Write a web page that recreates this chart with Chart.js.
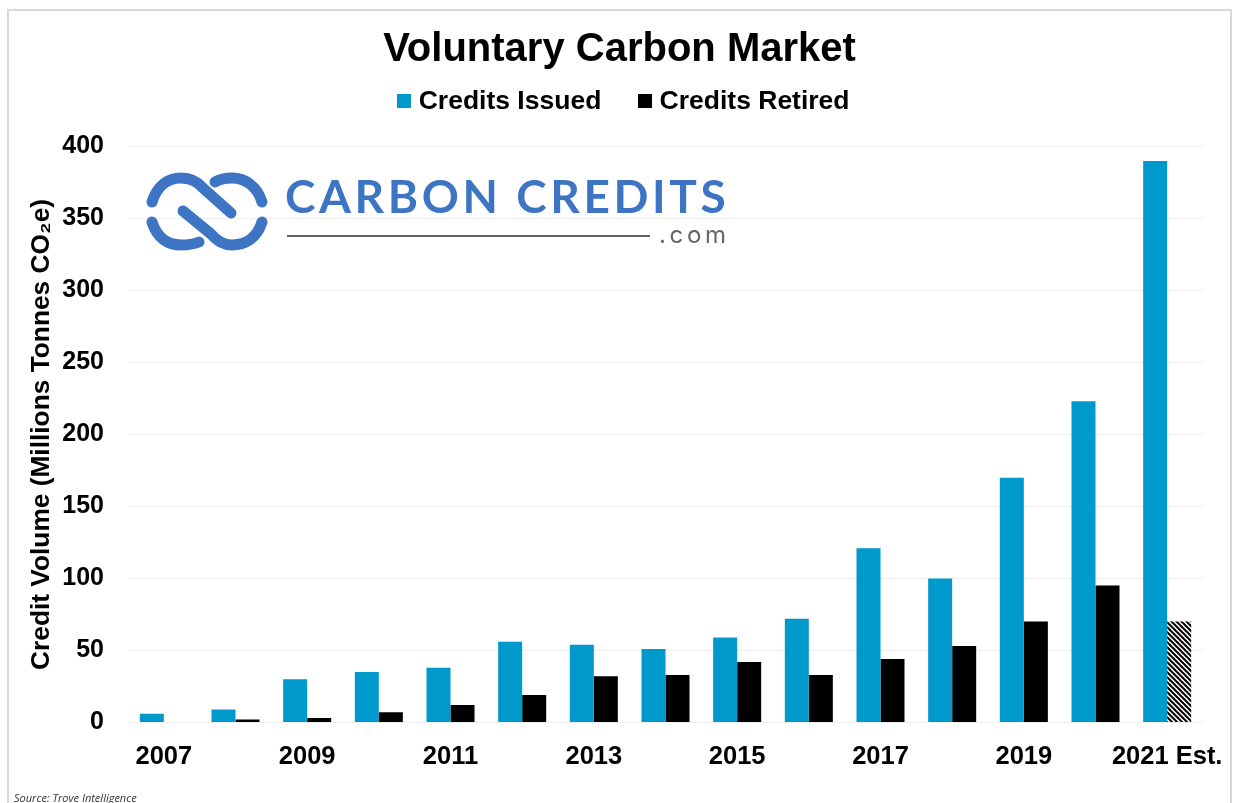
<!DOCTYPE html>
<html>
<head>
<meta charset="utf-8">
<title>Voluntary Carbon Market</title>
<script src="https://cdn.jsdelivr.net/npm/chart.js@4"></script>
<style>
  html, body { margin: 0; padding: 0; background: #fff; overflow: hidden; }
  canvas { display: block; }
</style>
</head>
<body>
<canvas id="carbonChart" width="1233" height="803"></canvas>
<script>
const years = ["2007", "2008", "2009", "2010", "2011", "2012", "2013", "2014", "2015", "2016", "2017", "2018", "2019", "2020", "2021 Est."];
const creditsIssued = [6, 9, 30, 35, 38, 56, 54, 51, 59, 72, 121, 100, 170, 223, 390];
const creditsRetired = [0, 2, 3, 7, 12, 19, 32, 33, 42, 33, 44, 53, 70, 95, 70];
const yTicks = [0, 50, 100, 150, 200, 250, 300, 350, 400];

const BLUE = "#0099cc";
const LOGO_BLUE = "#3d75c4";
const FONT = "'Liberation Sans', Arial, sans-serif";

// black/white diagonal hatch for the estimated 2021 bar
function hatch(ctx) {
  const c = document.createElement("canvas");
  c.width = 5;
  c.height = 5;
  const p = c.getContext("2d");
  p.fillStyle = "#fff";
  p.fillRect(0, 0, 5, 5);
  p.strokeStyle = "#000";
  p.lineWidth = 2;
  p.beginPath();
  p.moveTo(-1, -1);
  p.lineTo(6, 6);
  p.moveTo(-1, 4);
  p.lineTo(1, 6);
  p.moveTo(4, -1);
  p.lineTo(6, 1);
  p.stroke();
  return ctx.createPattern(c, "repeat");
}

// square legend marker, drawn as an image so the text can sit closer to it
function marker(color) {
  const c = document.createElement("canvas");
  c.width = 14;
  c.height = 14;
  const p = c.getContext("2d");
  p.fillStyle = color;
  p.fillRect(0, 0, 14, 14);
  return c;
}

function drawLogo(ctx) {
  ctx.save();
  ctx.strokeStyle = LOGO_BLUE;
  ctx.lineWidth = 11;
  ctx.lineCap = "round";
  ctx.beginPath();
  ctx.moveTo(152, 202);
  ctx.bezierCurveTo(157, 186, 168, 178, 181, 178);
  ctx.bezierCurveTo(192, 178, 198, 182, 203, 188);
  ctx.lineTo(231, 213);
  ctx.moveTo(262, 202);
  ctx.bezierCurveTo(257, 186, 245, 178, 232, 178);
  ctx.bezierCurveTo(225, 178, 220, 179, 215, 182);
  ctx.moveTo(262, 222);
  ctx.bezierCurveTo(257, 238, 245, 245, 232, 245);
  ctx.bezierCurveTo(222, 245, 216, 240, 211, 234);
  ctx.lineTo(183, 211);
  ctx.moveTo(152, 222);
  ctx.bezierCurveTo(157, 238, 168, 245, 181, 245);
  ctx.bezierCurveTo(188, 245, 194, 244, 199, 242);
  ctx.stroke();

  ctx.fillStyle = LOGO_BLUE;
  ctx.font = "700 46px Lato, sans-serif";
  ctx.letterSpacing = "3.6px";
  ctx.textAlign = "left";
  ctx.textBaseline = "alphabetic";
  ctx.fillText("CARBON CREDITS", 285, 213);

  ctx.strokeStyle = "#666";
  ctx.lineWidth = 2;
  ctx.lineCap = "butt";
  ctx.beginPath();
  ctx.moveTo(287, 236);
  ctx.lineTo(650, 236);
  ctx.stroke();

  ctx.fillStyle = "#666";
  ctx.font = "24px Inter, sans-serif";
  ctx.letterSpacing = "3.7px";
  ctx.fillText(".com", 659, 243);
  ctx.restore();
}

const pagePlugin = {
  id: "page",
  afterLayout(chart) {
    // the title and legend are centred on the full picture, not on the box left of the right padding
    const title = chart.titleBlock;
    const legend = chart.legend;
    title.left += 18;
    title.right += 18;
    title.top += 7;
    title.bottom += 7;
    legend.left += 25;
    legend.right += 25;
    legend.top -= 22;
    legend.bottom -= 22;
  },
  beforeDraw(chart) {
    const ctx = chart.ctx;
    ctx.save();
    ctx.fillStyle = "#fff";
    ctx.fillRect(0, 0, 1233, 803);
    ctx.strokeStyle = "#d9d9d9";
    ctx.lineWidth = 2;
    ctx.strokeRect(8, 10, 1223, 800);
    ctx.restore();
  },
  afterDraw(chart) {
    const ctx = chart.ctx;
    drawLogo(ctx);
    ctx.save();
    ctx.fillStyle = "#333";
    ctx.font = "italic 11px 'Open Sans', sans-serif";
    ctx.textBaseline = "alphabetic";
    ctx.fillText("Source: Trove Intelligence", 14, 802);
    ctx.restore();
  },
};

const ctx = document.getElementById("carbonChart");

new Chart(ctx, {
  type: "bar",
  data: {
    labels: years,
    datasets: [
      {
        label: "Credits Issued",
        data: creditsIssued,
        backgroundColor: BLUE,
        categoryPercentage: 0.67,
        barPercentage: 1,
      },
      {
        label: "Credits Retired",
        data: creditsRetired,
        backgroundColor: creditsRetired.map((v, i) => (i === creditsRetired.length - 1 ? hatch(ctx.getContext("2d")) : "#000")),
        categoryPercentage: 0.67,
        barPercentage: 1,
      },
    ],
  },
  options: {
    responsive: false,
    animation: false,
    layout: { padding: { top: 19, right: 30, bottom: 12, left: 0 } },
    plugins: {
      title: {
        display: true,
        text: "Voluntary Carbon Market",
        color: "#000",
        font: { family: FONT, size: 40, weight: "bold" },
        padding: { top: 0, bottom: 0 },
      },
      legend: {
        display: true,
        labels: {
          usePointStyle: true,
          pointStyleWidth: 2,
          boxHeight: 14,
          padding: 43,
          color: "#000",
          font: { family: FONT, size: 26.5, weight: "bold" },
          generateLabels: () => [
            { text: "Credits Issued", pointStyle: marker(BLUE), datasetIndex: 0 },
            { text: "Credits Retired", pointStyle: marker("#000"), datasetIndex: 1 },
          ],
        },
      },
      tooltip: { enabled: false },
    },
    scales: {
      y: {
        min: 0,
        max: 400,
        afterBuildTicks: (axis) => {
          axis.ticks = yTicks.map((value) => ({ value }));
        },
        afterFit: (axis) => {
          axis.width = 128;
        },
        grid: { color: "#eeeeee", drawTicks: false },
        border: { display: false },
        ticks: {
          padding: 24,
          color: "#000",
          font: { family: FONT, size: 25, weight: "bold" },
        },
        title: {
          display: true,
          text: "Credit Volume (Millions Tonnes CO₂e)",
          color: "#000",
          padding: { top: 26, bottom: 0 },
          font: { family: FONT, size: 26.3, weight: "bold" },
        },
      },
      x: {
        afterFit: (axis) => {
          axis.paddingRight = 0;
          axis.paddingLeft = 0;
        },
        grid: { display: false, drawTicks: false },
        border: { display: false },
        ticks: {
          autoSkip: false,
          maxRotation: 0,
          padding: 19,
          color: "#000",
          font: { family: FONT, size: 25.5, weight: "bold" },
          callback: (value, i) => (i % 2 === 0 ? years[i] : ""),
        },
      },
    },
  },
  plugins: [pagePlugin],
});
</script>
</body>
</html>
